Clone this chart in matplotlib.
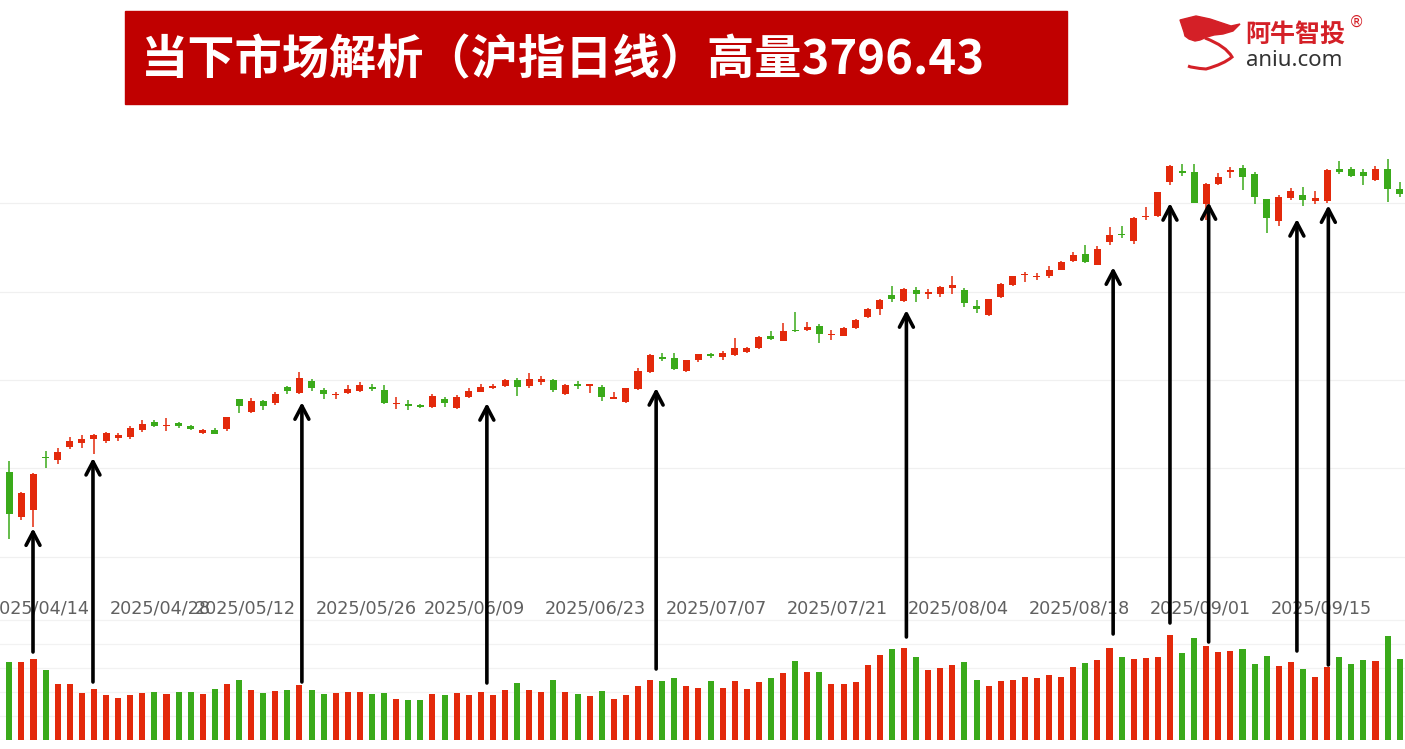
import numpy as np
import pandas as pd
import matplotlib
matplotlib.use('Agg')
import matplotlib.pyplot as plt
from matplotlib.patches import Rectangle, PathPatch
from matplotlib.path import Path
from matplotlib.transforms import Affine2D

plt.rcParams['font.family'] = ['Noto Sans CJK SC', 'DejaVu Sans']

# 上证指数日线 2025/04/07 - 2025/09/19
holidays = ['2025-05-01', '2025-05-02', '2025-05-05', '2025-06-02']
dates = [d for d in pd.bdate_range('2025-04-07', '2025-09-19') if d.strftime('%Y-%m-%d') not in holidays]

opens = [3193, 3090, 3106, 3227, 3220, 3249, 3258, 3266, 3262, 3269,
         3272, 3286, 3306, 3295, 3302, 3297, 3280, 3288, 3290, 3356,
         3328, 3352, 3349, 3385, 3371, 3398, 3377, 3366, 3370, 3376,
         3382, 3378, 3345, 3346, 3343, 3338, 3358, 3337, 3361, 3374,
         3383, 3386, 3399, 3386, 3396, 3399, 3368, 3389, 3387, 3385,
         3358, 3350, 3379, 3418, 3450, 3450, 3421, 3445, 3457, 3453,
         3457, 3464, 3472, 3499, 3489, 3514, 3513, 3522, 3502, 3500,
         3517, 3542, 3560, 3591, 3578, 3604, 3595, 3594, 3607, 3604,
         3567, 3546, 3587, 3614, 3637, 3633, 3636, 3649, 3668, 3685,
         3660, 3711, 3730, 3715, 3768, 3770, 3848, 3872, 3870, 3797,
         3842, 3870, 3878, 3865, 3809, 3760, 3812, 3818, 3805, 3804,
         3876, 3877, 3869, 3852, 3877, 3832]
highs = [3216, 3148, 3190, 3240, 3246, 3271, 3276, 3278, 3283, 3281,
         3296, 3309, 3309, 3313, 3305, 3299, 3290, 3291, 3317, 3358,
         3359, 3354, 3373, 3387, 3417, 3402, 3381, 3373, 3389, 3395,
         3391, 3389, 3361, 3354, 3346, 3368, 3361, 3365, 3381, 3390,
         3390, 3402, 3405, 3416, 3408, 3402, 3392, 3397, 3390, 3389,
         3373, 3383, 3426, 3459, 3461, 3461, 3446, 3459, 3460, 3465,
         3496, 3475, 3500, 3511, 3528, 3554, 3532, 3527, 3513, 3519,
         3538, 3562, 3584, 3613, 3607, 3611, 3605, 3612, 3635, 3609,
         3581, 3584, 3620, 3635, 3645, 3642, 3658, 3668, 3690, 3705,
         3703, 3746, 3748, 3768, 3790, 3826, 3886, 3888, 3888, 3845,
         3867, 3882, 3886, 3870, 3810, 3818, 3835, 3837, 3827, 3877,
         3896, 3881, 3877, 3884, 3900, 3847]
lows = [3040, 3084, 3068, 3201, 3210, 3244, 3246, 3233, 3258, 3262,
        3267, 3283, 3293, 3285, 3291, 3286, 3278, 3277, 3285, 3325,
        3326, 3332, 3343, 3368, 3368, 3376, 3358, 3356, 3368, 3374,
        3375, 3345, 3335, 3333, 3336, 3336, 3340, 3335, 3359, 3372,
        3380, 3384, 3364, 3382, 3389, 3373, 3365, 3380, 3371, 3353,
        3357, 3348, 3378, 3416, 3444, 3422, 3419, 3441, 3450, 3445,
        3455, 3462, 3470, 3490, 3489, 3509, 3511, 3483, 3490, 3499,
        3516, 3540, 3547, 3577, 3577, 3576, 3583, 3587, 3594, 3565,
        3551, 3544, 3586, 3612, 3622, 3625, 3630, 3648, 3667, 3664,
        3659, 3705, 3720, 3707, 3762, 3768, 3840, 3862, 3800, 3761,
        3840, 3857, 3829, 3797, 3733, 3747, 3806, 3794, 3797, 3799,
        3866, 3859, 3841, 3850, 3803, 3813]
closes = [3096.6, 3145.5, 3186.8, 3223.6, 3238.2, 3262.8, 3267.7, 3276.0, 3280.3, 3276.7,
          3291.4, 3299.8, 3296.4, 3297.3, 3295.1, 3288.4, 3286.7, 3279.0, 3316.1, 3342.0,
          3352.0, 3342.0, 3369.2, 3374.9, 3404.0, 3380.8, 3367.5, 3367.6, 3380.5, 3387.6,
          3380.2, 3348.4, 3346.8, 3340.7, 3339.9, 3363.5, 3347.5, 3362.0, 3376.2, 3384.1,
          3385.4, 3399.8, 3384.8, 3402.3, 3402.7, 3377.0, 3388.7, 3387.4, 3388.8, 3362.1,
          3359.9, 3381.6, 3420.6, 3456.0, 3448.5, 3424.2, 3444.4, 3457.8, 3454.8, 3461.2,
          3472.3, 3473.1, 3497.5, 3493.0, 3509.7, 3510.2, 3519.7, 3505.0, 3503.8, 3516.8,
          3534.5, 3559.8, 3581.9, 3582.3, 3605.7, 3593.7, 3597.9, 3609.7, 3615.7, 3573.2,
          3560.0, 3583.3, 3617.6, 3634.0, 3639.7, 3635.1, 3647.6, 3665.9, 3683.5, 3666.4,
          3696.8, 3728.0, 3727.3, 3766.2, 3771.1, 3825.8, 3883.6, 3868.4, 3800.4, 3843.6,
          3857.9, 3875.5, 3858.1, 3813.6, 3765.9, 3812.5, 3826.8, 3807.3, 3812.2, 3875.3,
          3870.6, 3860.5, 3861.9, 3876.3, 3831.7, 3820.1]
volumes = [9790, 9790, 10125, 8750, 7000, 7000, 5875, 6375, 5625, 5250,
           5625, 5875, 6000, 5750, 6000, 6000, 5750, 6375, 7000, 7500,
           6250, 5875, 6125, 6250, 6875, 6250, 5750, 5875, 6000, 6000,
           5750, 5875, 5125, 5000, 5000, 5750, 5625, 5875, 5625, 6000,
           5625, 6250, 7125, 6250, 6000, 7500, 6000, 5750, 5500, 6125,
           5125, 5625, 6750, 7500, 7375, 7750, 6750, 6500, 7375, 6500,
           7375, 6375, 7250, 7750, 8375, 9875, 8500, 8500, 7000, 7000,
           7250, 9375, 10625, 11375, 11500, 10375, 8750, 9000, 9375, 9750,
           7500, 6750, 7375, 7500, 7875, 7750, 8125, 7875, 9125, 9625,
           10000, 11500, 10375, 10125, 10250, 10375, 13125, 10875, 12750, 11750,
           11000, 11125, 11375, 9500, 10500, 9250, 9750, 8875, 7875, 9125,
           10375, 9500, 10000, 9875, 13000, 10125]

tick_dates = ['2025/04/14', '2025/04/28', '2025/05/12', '2025/05/26', '2025/06/09', '2025/06/23',
              '2025/07/07', '2025/07/21', '2025/08/04', '2025/08/18', '2025/09/01', '2025/09/15']
label_shift = -2.5  # 截图里日期刻度比K线偏左

# 放量位置的箭头: K线序号, 箭头尖所指价位, 箭尾所在的成交量高度
arrow_pos = [1.96, 6.92, 24.2, 39.5, 53.5, 74.2, 91.3, 96.0, 99.2, 106.5, 109.1]
arrow_tip = [3065, 3224, 3350, 3348, 3382, 3558, 3655, 3800, 3802, 3764, 3795]
arrow_base = [11000, 7250, 7250, 7125, 8875, 12875, 13250, 14625, 12250, 11125, 9375]

RED = '#E3290B'
GREEN = '#3AAA1A'

W, H = 1405, 749
fig = plt.figure(figsize=(W / 100, H / 100), dpi=100)
fig.patch.set_facecolor('white')

x = np.arange(len(closes))
o = np.array(opens, float)
c = np.array(closes, float)
up = c >= o
colors = [RED if u else GREEN for u in up]

# K线
ax = fig.add_axes([0, 1 - 580 / H, 1, 450 / H])
ax.set_xlim(-0.77, 115.44)
ax.set_ylim(2948, 3965)
for g in [3000, 3200, 3400, 3600, 3800]:
    ax.axhline(g, color='#f0f0f0', lw=0.9, zorder=0)
ax.vlines(x, lows, highs, colors=colors, lw=1.1, zorder=2)
body_lo = np.minimum(o, c)
body_h = np.maximum(np.abs(c - o), 3.0)
ax.bar(x, body_h, bottom=body_lo, width=0.58, color=colors, zorder=3)
ax.axis('off')

# 成交量
axv = fig.add_axes([0, 1 - 740 / H, 1, 121 / H])
axv.set_xlim(-0.77, 115.44)
axv.set_ylim(0, 15125)
for g in [0, 3000, 6000, 9000, 12000, 15000]:
    axv.axhline(g, color='#f2f2f2', lw=0.9, zorder=0)
axv.bar(x, volumes, width=0.5, color=colors, zorder=2)
for s in axv.spines.values():
    s.set_visible(False)
axv.set_yticks([])
date_str = [d.strftime('%Y/%m/%d') for d in dates]
tick_x = [date_str.index(t) + label_shift for t in tick_dates]
axv.set_xticks(tick_x)
axv.set_xticklabels(tick_dates, family='DejaVu Sans')
axv.xaxis.set_ticks_position('top')
axv.tick_params(axis='x', length=0, pad=1, labelsize=12.7, labelcolor='#606060')
axv.patch.set_alpha(0)

# 箭头
for px, tip, base in zip(arrow_pos, arrow_tip, arrow_base):
    fig.add_artist(plt.Annotation('', xy=(px, tip), xycoords=ax.transData,
                                  xytext=(px, base), textcoords=axv.transData,
                                  arrowprops=dict(arrowstyle='->, head_length=0.95, head_width=0.5',
                                                  color='black', lw=2.6, shrinkA=0, shrinkB=0)))

# 标题栏
fig.add_artist(Rectangle((125 / W, 1 - 104 / H), 942 / W, 93 / H,
                         transform=fig.transFigure, color='#C00000', zorder=1))
fig.text(141 / W, 1 - 60 / H, '当下市场解析（沪指日线）高量3796.43', color='white',
         fontsize=34, fontweight='bold', va='center', ha='left', zorder=2)

# 阿牛智投 logo
pix = Affine2D().scale(1, -1).translate(0, H)
verts = [(1184, 32), (1180, 20), (1196, 16), (1210, 19), (1222, 23), (1231, 26), (1240, 24),
         (1233, 31), (1223, 34), (1214, 35), (1207, 37), (1200, 40), (1195, 41), (1189, 39),
         (1185, 36), (1184, 32)]
codes = [Path.MOVETO] + [Path.LINETO] * (len(verts) - 2) + [Path.CLOSEPOLY]
fig.add_artist(PathPatch(Path(verts, codes), transform=pix, facecolor='#D42027', edgecolor='#D42027', lw=1))
swoosh = Path([(1205, 38), (1226, 46), (1232, 57), (1224, 64), (1206, 69), (1192, 68), (1188, 66)],
              [Path.MOVETO, Path.CURVE3, Path.CURVE3, Path.CURVE3, Path.CURVE3, Path.CURVE3, Path.CURVE3])
fig.add_artist(PathPatch(swoosh, transform=pix, facecolor='none', edgecolor='#D42027', lw=2.2))
fig.text(1245 / W, 1 - 35 / H, '阿牛智投', color='#D42027', fontsize=18, fontweight='bold',
         va='center', ha='left')
fig.text(1349 / W, 1 - 22 / H, '®', color='#D42027', fontsize=11, va='center', ha='left',
         family='DejaVu Sans')
fig.text(1246 / W, 1 - 61 / H, 'aniu.com', color='#333333', fontsize=16, va='center', ha='left',
         family='Noto Sans')

fig.savefig('out.png', dpi=100, facecolor='white')
